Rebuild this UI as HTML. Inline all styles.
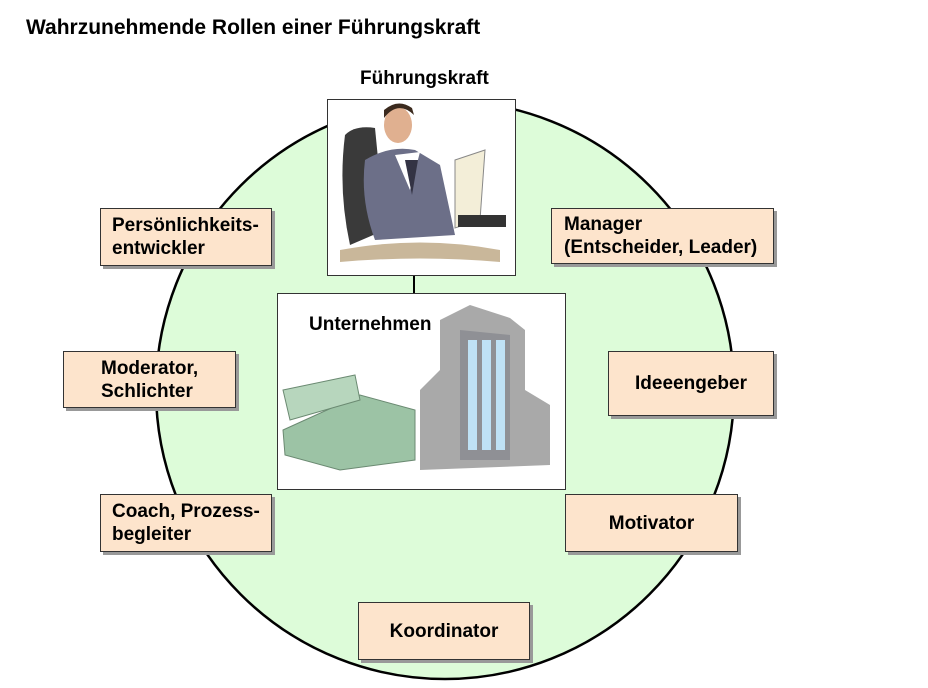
<!DOCTYPE html>
<html><head><meta charset="utf-8"><style>
body{margin:0;width:928px;height:688px;background:#fff;position:relative;font-family:"Liberation Sans",sans-serif;overflow:hidden}
.t{position:absolute;font-weight:bold;color:#000}
.b{position:absolute;background:#fde4cc;border:1px solid #333;box-shadow:3px 3px 0 #999;font-weight:bold;font-size:19px;line-height:23px;box-sizing:border-box;display:flex;align-items:center;white-space:nowrap}
</style></head><body>
<div class="t" style="left:26px;top:16px;font-size:21px">Wahrzunehmende Rollen einer Führungskraft</div>
<svg style="position:absolute;left:0;top:0" width="928" height="688">
<circle cx="445" cy="390" r="289" fill="#ddfcd9" stroke="#000" stroke-width="2.5"/>
<line x1="414" y1="275" x2="414" y2="293" stroke="#000" stroke-width="2"/>
<rect x="327.5" y="99.5" width="188" height="176" fill="#fff" stroke="#333"/>
<rect x="277.5" y="293.5" width="288" height="196" fill="#fff" stroke="#333"/>
<path d="M345 135 Q355 125 375 128 L385 230 L350 245 Q338 190 345 135Z" fill="#3a3a3a"/>
<path d="M365 160 Q390 145 415 150 L440 165 L455 235 L375 240 Q360 200 365 160Z" fill="#6c6f88"/>
<path d="M395 155 L410 190 L420 152Z" fill="#fff"/>
<path d="M405 160 L412 195 L418 160Z" fill="#334"/>
<ellipse cx="398" cy="125" rx="14" ry="18" fill="#e0b090"/>
<path d="M384 118 Q398 100 414 115 L412 108 Q398 98 384 110Z" fill="#3b2a1e"/>
<path d="M455 160 L485 150 L480 220 L455 228Z" fill="#f3eed8" stroke="#888"/>
<rect x="458" y="215" width="48" height="12" fill="#333"/>
<path d="M340 250 Q420 235 500 250 L500 262 Q420 255 340 262Z" fill="#c9b79a"/>
<path d="M283 430 L360 395 L415 410 L415 460 L340 470 L285 455Z" fill="#9cc3a5" stroke="#6b8a72"/>
<path d="M283 390 L355 375 L360 400 L290 420Z" fill="#b7d6bd" stroke="#6b8a72"/>
<path d="M420 390 L440 370 L440 320 L470 305 L510 318 L525 330 L525 390 L550 405 L550 465 L420 470Z" fill="#a9a9a9"/>
<path d="M460 330 L510 335 L510 460 L460 460Z" fill="#8f9095"/>
<rect x="468" y="340" width="9" height="110" fill="#bfe1f5"/>
<rect x="482" y="340" width="9" height="110" fill="#bfe1f5"/>
<rect x="496" y="340" width="9" height="110" fill="#bfe1f5"/>
</svg>
<div class="t" style="left:360px;top:68px;font-size:19px">Führungskraft</div>
<div class="t" style="left:309px;top:314px;font-size:19px">Unternehmen</div>
<div class="b" style="left:100px;top:208px;width:172px;height:58px;padding-left:11px">Persönlichkeits-<br>entwickler</div>
<div class="b" style="left:551px;top:208px;width:223px;height:56px;padding-left:12px">Manager<br>(Entscheider, Leader)</div>
<div class="b" style="left:63px;top:351px;width:173px;height:57px;padding-left:37px">Moderator,<br>Schlichter</div>
<div class="b" style="left:608px;top:351px;width:166px;height:65px;justify-content:center">Ideeengeber</div>
<div class="b" style="left:100px;top:494px;width:172px;height:58px;padding-left:11px">Coach, Prozess-<br>begleiter</div>
<div class="b" style="left:565px;top:494px;width:173px;height:58px;justify-content:center">Motivator</div>
<div class="b" style="left:358px;top:602px;width:172px;height:58px;justify-content:center">Koordinator</div>
</body></html>
